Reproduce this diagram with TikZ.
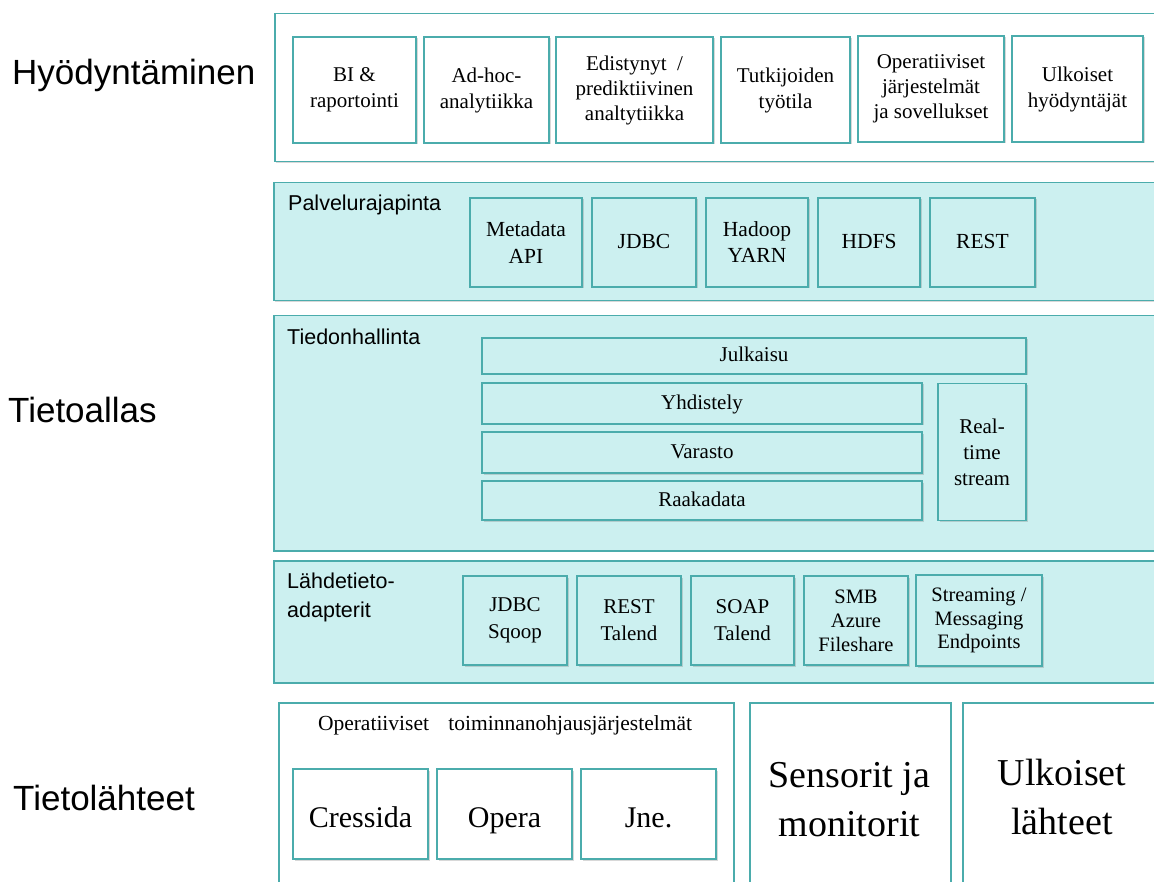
\documentclass[tikz,border=0pt]{standalone}
\usepackage{fontspec}
\setmainfont{Liberation Serif}
\newfontfamily\arialf{Liberation Sans}
\usetikzlibrary{shadows}
\definecolor{tealc}{RGB}{75,172,172}
\definecolor{cyanfill}{RGB}{204,240,240}
\tikzset{
  shd/.style={drop shadow={shadow xshift=1.5pt, shadow yshift=-1.5pt, opacity=0.25, fill=black!60}},
  panelw/.style={draw=tealc, line width=1.5pt, fill=white, shd, anchor=north west, inner sep=0pt},
  panelc/.style={draw=tealc, line width=1.5pt, fill=cyanfill, shd, anchor=north west, inner sep=0pt},
  inw/.style={draw=tealc, line width=1.5pt, fill=white, shd, align=center, inner sep=0pt,
      font=\fontsize{21}{26}\selectfont},
  inc/.style={draw=tealc, line width=1.5pt, fill=cyanfill, shd, align=center, inner sep=0pt,
      font=\fontsize{21}{26}\selectfont},
  oneline/.style={text height=15pt, text depth=3pt},
  bigline/.style={text height=27pt, text depth=1pt},
  sidelbl/.style={anchor=base west, inner sep=0pt, font=\arialf\fontsize{35}{40}\selectfont},
  panellbl/.style={anchor=base west, inner sep=0pt, font=\arialf\fontsize{21.5}{28}\selectfont},
}
\begin{document}
\begin{tikzpicture}[x=1pt, y=-1pt]
\useasboundingbox (0,0) rectangle (1154,882);
\clip (0,0) rectangle (1154,882);
\fill[white] (0,0) rectangle (1154,882);

% ---- Left side labels
\node[sidelbl] (lhyo) at (12,85) {Hyödyntäminen};
\node[sidelbl] (ltie) at (8,422) {Tietoallas};
\node[sidelbl] (lsrc) at (13,810) {Tietolähteet};

% ---- Hyödyntäminen panel
\node[panelw, minimum width=890, minimum height=148] (phyo) at (274,13) {};
\node[inw, minimum width=123, minimum height=106] (bi) at (354.5,90) {BI \&\\raportointi};
\node[inw, minimum width=125, minimum height=106] (adhoc) at (486.5,90) {Ad-hoc-\\analytiikka};
\node[inw, minimum width=157, minimum height=106, font=\fontsize{21}{25}\selectfont] (edist) at (634.5,90) {Edistynyt\ \ /\\prediktiivinen\\analtytiikka};
\node[inw, minimum width=129, minimum height=106] (tutk) at (785.5,90) {Tutkijoiden\\työtila};
\node[inw, minimum width=146, minimum height=106, font=\fontsize{21}{25}\selectfont] (oper) at (931,89) {Operatiiviset\\järjestelmät\\ja sovellukset};
\node[inw, minimum width=131, minimum height=106] (ulkh) at (1077.5,89) {Ulkoiset\\hyödyntäjät};

% ---- Palvelurajapinta panel
\node[panelc, minimum width=890, minimum height=118] (ppal) at (273,182) {};
\node[panellbl] (lpal) at (288,211) {Palvelurajapinta};
\node[inc, minimum width=112, minimum height=89, font=\fontsize{21.5}{27}\selectfont] (meta) at (526,242.5) {Metadata\\API};
\node[inc, oneline, minimum width=104, minimum height=89, font=\fontsize{21.5}{27}\selectfont] (jdbc) at (644,242.5) {JDBC};
\node[inc, minimum width=102, minimum height=89, font=\fontsize{21.5}{26}\selectfont] (hadoop) at (757,242.5) {Hadoop\\YARN};
\node[inc, oneline, minimum width=102, minimum height=89, font=\fontsize{21.5}{27}\selectfont] (hdfs) at (869,242.5) {HDFS};
\node[inc, oneline, minimum width=105, minimum height=89, font=\fontsize{21.5}{27}\selectfont] (rest) at (982.5,242.5) {REST};

% ---- Tiedonhallinta panel
\node[panelc, minimum width=890, minimum height=235] (ptie) at (273,315) {};
\node[panellbl] (ltd) at (287,345) {Tiedonhallinta};
\node[inc, oneline, minimum width=544, minimum height=36] (julk) at (754,356) {Julkaisu};
\node[inc, oneline, minimum width=440, minimum height=41] (yhd) at (702,403.5) {Yhdistely};
\node[inc, oneline, minimum width=440, minimum height=41] (var) at (702,452.5) {Varasto};
\node[inc, oneline, minimum width=440, minimum height=39] (raaka) at (702,500.5) {Raakadata};
\node[inc, minimum width=88, minimum height=137] (rts) at (982,452) {Real-\\time\\stream};

% ---- Lähdetieto-adapterit panel
\node[panelc, minimum width=890, minimum height=122] (plah) at (273,560) {};
\node[panellbl] (llah1) at (287,588) {Lähdetieto-};
\node[panellbl] (llah2) at (287,617) {adapterit};
\node[inc, minimum width=104, minimum height=89, font=\fontsize{21}{27}\selectfont] (jdbcs) at (515,620.5) {JDBC\\Sqoop};
\node[inc, minimum width=104, minimum height=89, font=\fontsize{21}{27}\selectfont] (restt) at (629,620.5) {REST\\Talend};
\node[inc, minimum width=103, minimum height=89, font=\fontsize{21}{27}\selectfont] (soap) at (742.5,620.5) {SOAP\\Talend};
\node[inc, minimum width=104, minimum height=89, font=\fontsize{20.5}{24}\selectfont] (smb) at (856,620.5) {SMB\\Azure\\Fileshare};
\node[inc, minimum width=126, minimum height=91, font=\fontsize{20.5}{23.5}\selectfont] (strm) at (979,620.5) {Streaming /\\Messaging\\Endpoints};

% ---- Tietolähteet
\node[panelw, minimum width=455, minimum height=200] (pop) at (278,702) {};
\node[anchor=base, inner sep=0pt, font=\fontsize{21.5}{25}\selectfont] (lop) at (505,730) {Operatiiviset\hspace{0.9em}toiminnanohjausjärjestelmät};
\node[inw, bigline, minimum width=135, minimum height=90, font=\fontsize{30}{36}\selectfont] (cres) at (360.5,814) {Cressida};
\node[inw, bigline, minimum width=135, minimum height=90, font=\fontsize{30}{36}\selectfont] (opera) at (504.5,814) {Opera};
\node[inw, bigline, minimum width=135, minimum height=90, font=\fontsize{30}{36}\selectfont] (jne) at (648.5,814) {Jne.};

\node[panelw, minimum width=201, minimum height=200] (psens) at (749,702) {};
\node[align=center, inner sep=0pt, font=\fontsize{38}{49}\selectfont] (tsens) at (849.5,800) {Sensorit ja\\monitorit};
\node[panelw, minimum width=210, minimum height=200] (pulk) at (962,702) {};
\node[align=center, inner sep=0pt, font=\fontsize{38}{49}\selectfont] (tulk) at (1062,797) {Ulkoiset\\lähteet};
\end{tikzpicture}
\end{document}
